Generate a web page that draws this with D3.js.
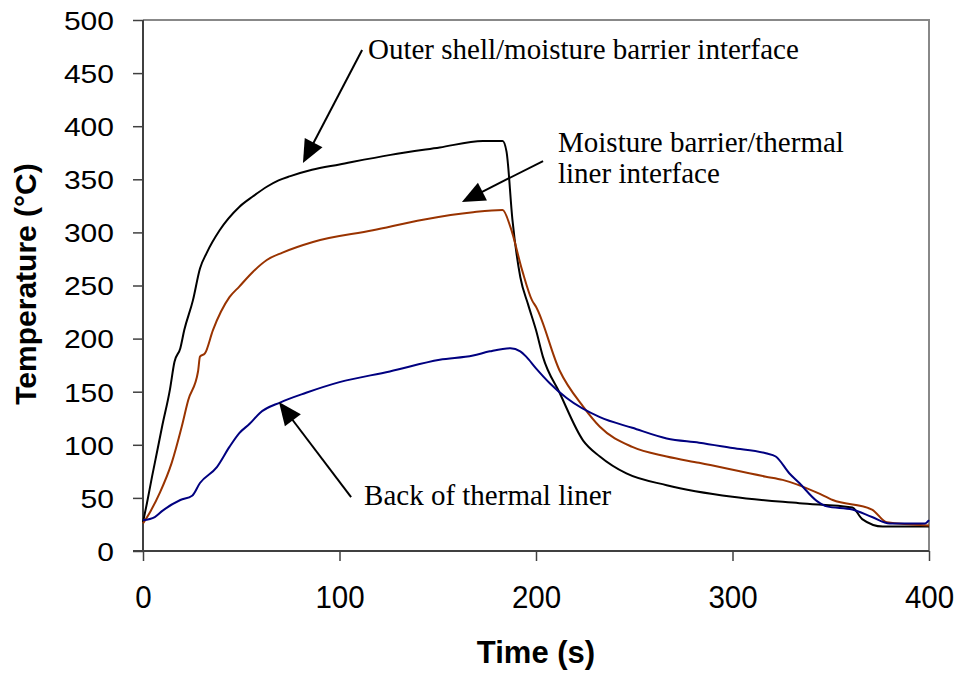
<!DOCTYPE html>
<html>
<head>
<meta charset="utf-8">
<script src="https://cdn.jsdelivr.net/npm/d3@7"></script>
<style>
  html, body { margin: 0; padding: 0; background: #fff; }
  svg { display: block; }
</style>
</head>
<body>
<svg id="chart" width="961" height="675"></svg>
<script>
// ---- data ----
const xTicks = [0, 100, 200, 300, 400];
const yTicks = [0, 50, 100, 150, 200, 250, 300, 350, 400, 450, 500];

const outerTime = [0, 2, 4.6, 7, 9.7, 13.7, 16, 19, 21, 25.4, 29, 32.5, 39, 49, 56, 63, 69, 75, 86, 100, 126, 151, 173, 183, 185, 188, 192, 196, 200, 203.5, 212, 224, 232.5, 246, 266.5, 300, 334, 361, 366, 376.5, 400];
const outerTemp = [27, 45, 70, 92, 117, 152, 178, 191, 208, 236, 266, 281, 302, 324, 334, 343, 349, 353, 359, 364, 373, 380, 386, 386, 376, 312, 258, 232, 208, 183, 149, 104, 89, 73, 62, 51, 45, 41, 30, 23, 23];

const moistTime = [0, 4, 8.6, 14.6, 19.7, 23, 28, 29, 31.5, 35.6, 44, 49, 56, 63, 71, 86.5, 117, 142.5, 168, 183, 187, 193, 198, 200, 212, 224, 232.5, 249, 266.5, 283, 317, 325.5, 343, 351, 371, 378.5, 400];
const moistTemp = [26, 38, 55, 83, 117, 142, 169, 183, 186, 208, 239, 249, 263, 274, 281, 291, 302, 312, 319, 321, 305, 264, 236, 230, 170, 136, 117, 98, 89, 83, 70, 67, 55, 48, 39, 27, 24];

const backTime = [0, 6, 10, 19, 25, 29, 37.6, 44, 49, 54.4, 59.5, 70, 83, 100, 125.6, 151, 168, 176.5, 187, 192, 195, 200, 207, 215.6, 232.5, 249, 266.5, 283, 300, 317, 322, 329, 334, 343, 348, 361, 371, 380, 398, 400];
const backTemp = [29, 32, 38, 48, 52, 64, 79, 98, 111, 120, 130, 140, 149, 159, 169, 180, 184, 188, 191, 188, 183, 172, 158, 144, 126, 116, 106, 102, 97, 92, 89, 73, 64, 47, 42, 39, 32, 26, 26, 29];

const seriesNames = ["Outer shell/moisture barrier interface", "Moisture barrier/thermal liner interface", "Back of thermal liner"];
const seriesColors = ["#000000", "#993300", "#000080"];

// ---- layout ----
const svg = d3.select("#chart");
const mLeft = 143, mRight = 929, mTop = 20, mBottom = 551;
const x = d3.scaleLinear().domain([0, 400]).range([mLeft, mRight]);
const y = d3.scaleLinear().domain([0, 500]).range([mBottom, mTop]);

// plot border (top/right)
svg.append("path")
  .attr("d", `M${mLeft},${mTop}H${mRight}V${mBottom}`)
  .attr("fill", "none").attr("stroke", "#888").attr("stroke-width", 2);

// axes
const yAxis = d3.axisLeft(y).tickValues(yTicks).tickSize(10).tickFormat(d3.format("d"));
const gy = svg.append("g").attr("transform", `translate(${mLeft},0)`).call(yAxis);
const xAxis = d3.axisBottom(x).tickValues(xTicks).tickSize(10).tickFormat(d3.format("d"));
const gx = svg.append("g").attr("transform", `translate(0,${mBottom})`).call(xAxis);

[gx, gy].forEach(g => {
  g.select(".domain").attr("stroke", "#404040").attr("stroke-width", 2);
  g.selectAll(".tick line").attr("stroke", "#404040").attr("stroke-width", 1.5);
});
gx.select(".domain").attr("d", `M${mLeft - 10},0H${mRight}`);
gy.select(".domain").attr("d", `M0,${mTop}V${mBottom}`);

gy.selectAll(".tick text")
  .attr("x", -29)
  .attr("dy", "0.36em")
  .attr("font-family", "Liberation Sans, Arial, sans-serif")
  .attr("font-size", 26)
  .attr("fill", "#000")
  .attr("textLength", d => String(d).length * 16.7)
  .attr("lengthAdjust", "spacingAndGlyphs");

gx.selectAll(".tick text")
  .attr("y", 57)
  .attr("dy", 0)
  .attr("font-family", "Liberation Sans, Arial, sans-serif")
  .attr("font-size", 32)
  .attr("fill", "#000")
  .attr("textLength", d => String(d).length * 16.4)
  .attr("lengthAdjust", "spacingAndGlyphs");

// axis titles
svg.append("text")
  .attr("x", 536).attr("y", 663)
  .attr("text-anchor", "middle")
  .attr("font-family", "Liberation Sans, Arial, sans-serif")
  .attr("font-weight", "bold").attr("font-size", 31)
  .text("Time (s)");

svg.append("text")
  .attr("transform", "translate(36,284) rotate(-90)")
  .attr("text-anchor", "middle")
  .attr("font-family", "Liberation Sans, Arial, sans-serif")
  .attr("font-weight", "bold").attr("font-size", 30)
  .text("Temperature (°C)");

// series
const line = d3.line().x(d => x(d[0])).y(d => y(d[1])).curve(d3.curveMonotoneX);
const series = [
  d3.zip(outerTime, outerTemp),
  d3.zip(moistTime, moistTemp),
  d3.zip(backTime, backTemp)
];
series.forEach((pts, i) => {
  svg.append("path")
    .datum(pts)
    .attr("fill", "none")
    .attr("stroke", seriesColors[i])
    .attr("stroke-width", 2)
    .attr("stroke-linejoin", "round")
    .attr("d", line);
});

// annotations (positions in data units)
const arrowFrom = [[111.5, 471.8], [203.6, 367.2], [105.9, 50.8]];
const arrowTo   = [[81.4, 365.3], [162.3, 328.6], [69.2, 140.3]];
const labelPos  = [[114.5, 463.3], [211.2, 375.7], [112.5, 43.3]];
const labelLines = [["Outer shell/moisture barrier interface"], ["Moisture barrier/thermal", "liner interface"], ["Back of thermal liner"]];

arrowFrom.forEach((f, i) => {
  const x0 = x(f[0]), y0 = y(f[1]);
  const x1 = x(arrowTo[i][0]), y1 = y(arrowTo[i][1]);
  const dx = x1 - x0, dy = y1 - y0, len = Math.hypot(dx, dy);
  const ux = dx / len, uy = dy / len;
  const hl = 23, hw = 10;
  const bx = x1 - ux * hl, by = y1 - uy * hl;
  svg.append("line")
    .attr("x1", x0).attr("y1", y0).attr("x2", bx + ux * 2).attr("y2", by + uy * 2)
    .attr("stroke", "#000").attr("stroke-width", 2);
  svg.append("path")
    .attr("d", `M${x1},${y1}L${bx - uy * hw},${by + ux * hw}L${bx + uy * hw},${by - ux * hw}Z`)
    .attr("fill", "#000");
});

labelPos.forEach((p, i) => {
  const t = svg.append("text")
    .attr("x", x(p[0])).attr("y", y(p[1]))
    .attr("font-family", "Liberation Serif, Times New Roman, serif")
    .attr("font-size", 29)
    .attr("fill", "#000");
  labelLines[i].forEach((s, j) => {
    t.append("tspan").attr("x", x(p[0])).attr("dy", j === 0 ? 0 : 31).text(s);
  });
});
</script>
</body>
</html>
